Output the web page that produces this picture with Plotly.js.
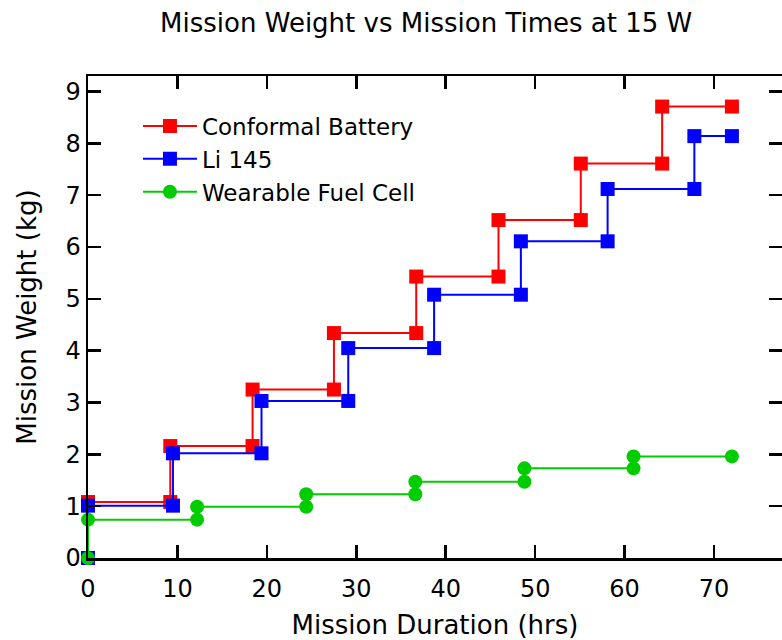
<!DOCTYPE html>
<html>
<head>
<meta charset="utf-8">
<script src="https://cdn.plot.ly/plotly-3.0.1.min.js"></script>
<style>html,body{margin:0;padding:0;background:#fff;}</style>
</head>
<body>
<div id="chart" style="width:782px;height:640px;"></div>
<script>
// Conformal Battery (step points)
const batteryX = [0, 0, 9.2, 9.2, 18.4, 18.4, 27.5, 27.5, 36.7, 36.7, 45.9, 45.9, 55.1, 55.1, 64.2, 64.2, 72.0];
const batteryY = [0, 1.08, 1.08, 2.16, 2.16, 3.25, 3.25, 4.34, 4.34, 5.43, 5.43, 6.52, 6.52, 7.61, 7.61, 8.71, 8.71];
// Li 145
const li145X = [0, 0, 9.5, 9.5, 19.4, 19.4, 29.1, 29.1, 38.7, 38.7, 48.4, 48.4, 58.1, 58.1, 67.8, 67.8, 72.0];
const li145Y = [0, 1.01, 1.01, 2.02, 2.02, 3.03, 3.03, 4.05, 4.05, 5.08, 5.08, 6.11, 6.11, 7.12, 7.12, 8.14, 8.14];
// Wearable Fuel Cell
const fuelX = [0, 0, 12.2, 12.2, 24.4, 24.4, 36.6, 36.6, 48.8, 48.8, 61.0, 61.0, 72.0];
const fuelY = [0, 0.74, 0.74, 0.99, 0.99, 1.23, 1.23, 1.47, 1.47, 1.73, 1.73, 1.96, 1.96];

const names = ["Conformal Battery", "Li 145", "Wearable Fuel Cell"];
const xTicks = [0, 10, 20, 30, 40, 50, 60, 70];
const yTicks = [0, 1, 2, 3, 4, 5, 6, 7, 8, 9];

const FONT = "DejaVu Sans, sans-serif";

const traces = [
  {x: batteryX, y: batteryY, name: names[0], mode: "lines+markers",
   line: {color: "#ff0000", width: 2}, marker: {symbol: "square", size: 14, color: "#ff0000"}, cliponaxis: false},
  {x: li145X, y: li145Y, name: names[1], mode: "lines+markers",
   line: {color: "#0000ff", width: 2}, marker: {symbol: "square", size: 14, color: "#0000ff"}, cliponaxis: false},
  {x: fuelX, y: fuelY, name: names[2], mode: "lines+markers",
   line: {color: "#00cc00", width: 2}, marker: {symbol: "circle", size: 14, color: "#00cc00"}, cliponaxis: false}
];

const layout = {
  width: 782, height: 640,
  margin: {l: 88, r: 0, t: 76, b: 82},
  paper_bgcolor: "#fff", plot_bgcolor: "#fff",
  font: {family: FONT, color: "#000", size: 22},
  title: {text: "Mission Weight vs Mission Times at 15 W", font: {family: FONT, size: 26, color: "#000"},
          x: 0.545, xanchor: "center", y: 0.965, yanchor: "middle", xref: "container", yref: "container"},
  showlegend: true,
  legend: {x: 0.072, y: 0.941, xanchor: "left", yanchor: "top", bgcolor: "rgba(0,0,0,0)",
           font: {family: FONT, size: 23, color: "#000"}, itemwidth: 54, tracegroupgap: 0},
  xaxis: {
    range: [0, 77.6], tickvals: xTicks, ticktext: xTicks.map(String),
    ticks: "inside", ticklen: 13, tickwidth: 2.5, tickcolor: "#000",
    showline: true, linewidth: 2.5, linecolor: "#000", mirror: "ticks",
    showgrid: false, zeroline: false, ticklabelstandoff: 8,
    tickfont: {family: FONT, size: 24, color: "#000"},
    title: {text: "Mission Duration (hrs)", font: {family: FONT, size: 26, color: "#000"}, standoff: 16}
  },
  yaxis: {
    range: [0, 9.3], tickvals: yTicks, ticktext: yTicks.map(String),
    ticks: "inside", ticklen: 13, tickwidth: 2.5, tickcolor: "#000",
    showline: true, linewidth: 2.5, linecolor: "#000", mirror: "ticks",
    showgrid: false, zeroline: false, ticklabelstandoff: 0,
    tickfont: {family: FONT, size: 24, color: "#000"},
    title: {text: "Mission Weight (kg)", font: {family: FONT, size: 26, color: "#000"}, standoff: 22}
  }
};

Plotly.newPlot("chart", traces, layout, {displayModeBar: false, staticPlot: true});
</script>
</body>
</html>
